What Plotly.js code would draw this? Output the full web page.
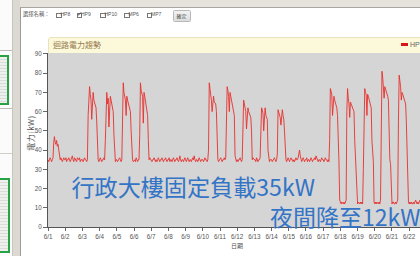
<!DOCTYPE html>
<html><head><meta charset="utf-8">
<script src="https://cdn.plot.ly/plotly-3.0.1.min.js"></script>
<style>
html,body{margin:0;padding:0;}
body{width:420px;height:256px;overflow:hidden;position:relative;background:#e6e3dd;font-family:"Noto Sans CJK TC","Liberation Sans",sans-serif;}
.abs{position:absolute;}
.cb{position:absolute;top:12.5px;width:3.5px;height:3.5px;border:0.8px solid #777;background:#fff;}
.lbl{position:absolute;top:11px;font-family:"Liberation Sans",sans-serif;font-size:5px;color:#555;line-height:7px;}
</style>
</head><body>
<!-- left sidebar -->
<div class="abs" style="left:0;top:0;width:12px;height:256px;background:#fbfbfb;border-right:1px solid #c8c6c0;"></div>
<div class="abs" style="left:0;top:50px;width:12px;height:1px;background:#bdbbb5;"></div>
<div class="abs" style="left:-2px;top:55px;width:7px;height:46px;border:2px solid #27a244;background:repeating-linear-gradient(#eef0ee 0 2px,#d9ddd9 2px 3px);"></div>
<div class="abs" style="left:0;top:108px;width:12px;height:1px;background:#bdbbb5;"></div>
<div class="abs" style="left:0;top:153px;width:12px;height:1px;background:#d0cec8;"></div>
<div class="abs" style="left:-2px;top:178px;width:8px;height:71px;border:2px solid #27a244;background:repeating-linear-gradient(#eef0ee 0 2px,#d9ddd9 2px 3px);"></div>
<div class="abs" style="left:13px;top:0;width:7px;height:256px;background:#dcd9d3;"></div>
<!-- main panel -->
<div class="abs" style="left:20px;top:7px;width:400px;height:249px;background:#fff;border-left:1px solid #9c9a96;border-top:1px solid #a8a6a2;"></div>
<!-- header row -->
<div class="lbl" style="left:23px;font-family:'Noto Sans CJK TC';font-size:5.3px;">選擇名稱：</div>
<div class="cb" style="left:56px;"></div><div class="lbl" style="left:60.5px;">HP8</div>
<div class="cb" style="left:76.5px;"></div><div class="lbl" style="left:76.6px;top:10.5px;font-size:5.5px;color:#333;">✓</div><div class="lbl" style="left:81px;">HP9</div>
<div class="cb" style="left:100px;"></div><div class="lbl" style="left:104.5px;">HP10</div>
<div class="cb" style="left:124px;"></div><div class="lbl" style="left:128.5px;">MP6</div>
<div class="cb" style="left:146.5px;"></div><div class="lbl" style="left:151px;">MP7</div>
<div class="abs" style="left:172.5px;top:10px;width:16px;height:10px;background:linear-gradient(#f2f2f2,#dcdcdc);border:0.8px solid #b8b8b8;border-radius:1.5px;font-size:5px;line-height:10px;text-align:center;color:#444;">確定</div>
<!-- chart title bar -->
<div class="abs" style="left:48px;top:37px;width:380px;height:15px;background:#fbf9da;border:1px solid #e8e3bd;border-radius:3px 0 0 0;"></div>
<div class="abs" style="left:53px;top:38.5px;font-size:8px;line-height:12px;color:#9a7b52;">迴路電力趨勢</div>
<div class="abs" style="left:401px;top:42.5px;width:7px;height:3.5px;background:#d9151b;"></div>
<div class="abs" style="left:410px;top:40px;font-family:'Liberation Sans';font-size:7px;line-height:9px;color:#666;white-space:nowrap;">HP</div>
<!-- axis titles -->
<div class="abs" style="left:29.5px;top:133px;width:0;height:0;"><div style="position:absolute;transform:translate(-50%,-50%) rotate(-90deg);white-space:nowrap;font-size:8px;letter-spacing:0.4px;color:#555;">電力(kW)</div></div>
<div class="abs" style="left:231px;top:242px;font-size:6px;line-height:8px;color:#555;">日期</div>

<div id="chart" class="abs" style="left:0;top:0;width:420px;height:256px;"></div>

<!-- overlay annotations -->
<div class="abs" style="left:71.5px;top:171.5px;font-size:23.1px;line-height:28px;color:#3374c6;white-space:nowrap;">行政大樓固定負載35kW</div>
<div class="abs" style="left:270px;top:202px;font-size:23px;line-height:28px;color:#3374c6;white-space:nowrap;">夜間降至12kW</div>

<script>
// hourly power (kW), starting 2013-06-01 00:00, one row per day
const startDay = [2013, 6, 1];
const hourlyKW = [
/*6/1*/ 35,34,35,36,35,34,35,36,44,47,44,43,45,42,43,41,37,35,36,35,34,35,36,35,
/*6/2*/ 35,36,34,35,35,36,35,34,35,36,37,35,34,36,35,35,34,36,35,35,36,34,35,35,
/*6/3*/ 35,34,35,36,35,35,34,35,58,70,73,69,66,56,68,70,66,64,63,62,55,36,35,34,
/*6/4*/ 35,36,35,34,35,35,36,35,45,66,70,64,67,52,65,68,66,63,62,60,48,35,34,35,
/*6/5*/ 35,34,35,35,36,35,34,35,50,75,70,68,66,58,68,66,64,63,62,60,50,36,35,34,
/*6/6*/ 35,35,34,36,35,34,35,35,48,75,71,70,68,54,70,68,66,64,62,58,45,35,36,35,
/*6/7*/ 35,34,35,35,36,35,34,35,34,35,36,35,34,35,35,36,35,34,35,35,36,35,34,35,
/*6/8*/ 35,36,34,35,35,34,35,36,35,34,35,35,36,35,34,35,37,35,34,35,35,34,35,36,
/*6/9*/ 35,34,35,36,35,34,35,35,34,35,36,35,37,35,34,35,35,34,35,36,35,34,35,35,
/*6/10*/35,34,35,36,35,35,34,35,40,75,72,70,66,60,66,68,65,64,64,60,42,35,34,35,
/*6/11*/35,36,35,34,35,35,36,35,36,50,73,71,68,60,70,68,66,65,64,62,58,37,35,34,
/*6/12*/35,34,35,35,36,35,34,35,55,66,64,62,60,51,61,62,60,59,58,57,50,35,36,35,
/*6/13*/35,35,34,36,35,34,35,35,36,58,62,61,59,50,60,62,58,57,56,40,35,34,35,35,
/*6/14*/35,34,35,35,36,35,34,35,38,61,60,58,57,53,60,61,58,56,50,36,35,34,35,36,
/*6/15*/35,34,35,36,35,35,34,35,34,35,36,35,35,36,38,40,37,35,34,35,36,35,34,35,
/*6/16*/35,36,34,35,35,34,35,36,35,34,35,35,36,35,37,36,35,34,35,35,34,35,36,35,
/*6/17*/35,34,35,36,35,35,34,35,34,45,72,70,69,58,68,68,66,65,64,62,58,35,34,14,
/*6/18*/13,12,13,12,12,13,12,13,14,60,72,67,64,57,65,64,63,62,61,60,45,35,33,13,
/*6/19*/12,13,12,12,13,12,13,12,30,70,72,70,69,58,69,68,66,65,64,62,45,35,34,13,
/*6/20*/12,13,12,13,12,12,13,12,14,65,81,78,74,67,73,72,70,69,68,66,45,35,33,13,
/*6/21*/12,13,13,12,12,13,12,13,14,55,79,76,73,66,70,69,68,67,65,64,55,35,34,13,
/*6/22*/12,13,12,13,12,12,13,12,13,14,13,12,13,12,13,14,13
];
const tickLabels = ['6/1','6/2','6/3','6/4','6/5','6/6','6/7','6/8','6/9','6/10','6/11',
  '6/12','6/13','6/14','6/15','6/16','6/17','6/18','6/19','6/20','6/21','6/22'];
const yTicks = [0,10,20,30,40,50,60,70,80,90];

function pad(n){return (n<10?'0':'')+n;}
function stamp(dayOffset, hour){
  const d = new Date(Date.UTC(startDay[0], startDay[1]-1, startDay[2] + dayOffset));
  return d.getUTCFullYear()+'-'+pad(d.getUTCMonth()+1)+'-'+pad(d.getUTCDate())+' '+pad(hour)+':00';
}
const xs = hourlyKW.map((_, i) => stamp(Math.floor(i/24), i%24));
const tickVals = tickLabels.map((_, i) => stamp(i, 0));

const trace = {
  x: xs, y: hourlyKW, type: 'scatter', mode: 'lines',
  line: {color: '#e6302c', width: 0.9}, hoverinfo: 'skip'
};
const axisFont = {family: 'Liberation Sans, Arial, sans-serif', size: 6.3, color: '#555'};
const layout = {
  width: 420, height: 256,
  margin: {l: 48, r: 0, t: 53, b: 29, pad: 0},
  paper_bgcolor: 'rgba(0,0,0,0)',
  plot_bgcolor: '#d5d5d5',
  showlegend: false,
  xaxis: {
    type: 'date', range: [stamp(0,0), '2013-06-22 15:05'],
    tickmode: 'array', tickvals: tickVals, ticktext: tickLabels,
    ticks: 'outside', ticklen: 3, tickcolor: '#666', tickwidth: 1,
    showline: true, linecolor: '#555', linewidth: 1,
    showgrid: false, zeroline: false, tickfont: axisFont, fixedrange: true
  },
  yaxis: {
    range: [0, 90.5], tickmode: 'array', tickvals: yTicks,
    ticks: 'outside', ticklen: 4, tickcolor: '#666', tickwidth: 1,
    showline: true, linecolor: '#555', linewidth: 1,
    showgrid: false, zeroline: false, tickfont: axisFont, fixedrange: true
  }
};
Plotly.newPlot('chart', [trace], layout, {staticPlot: true, displayModeBar: false});
</script>
</body></html>
